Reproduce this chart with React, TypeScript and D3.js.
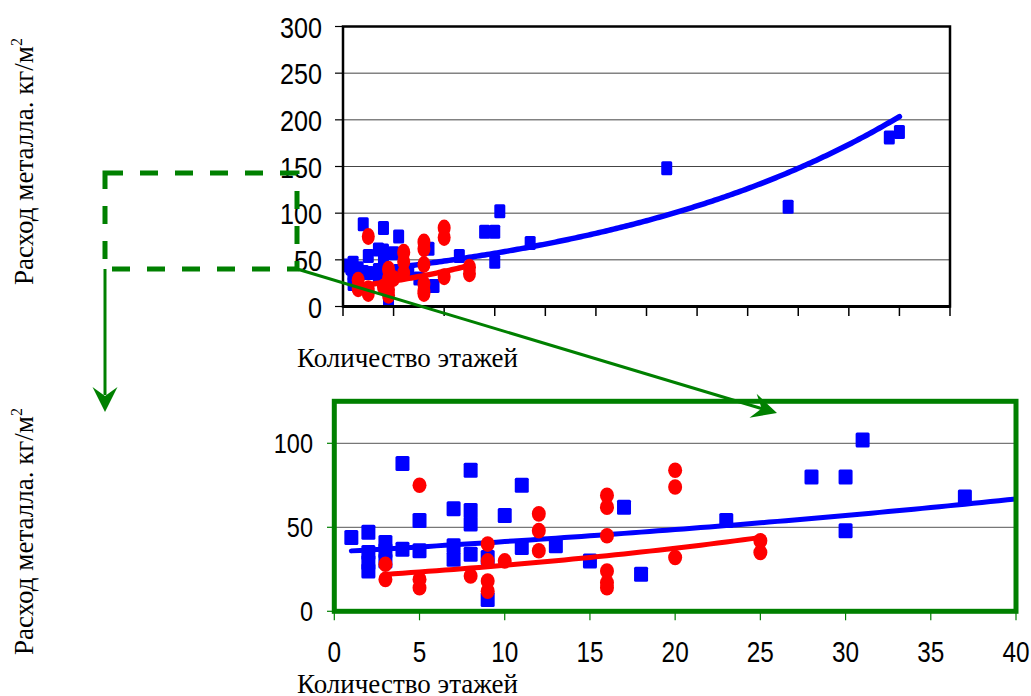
import * as d3 from 'd3';

// blue series: floors / metal use (kg/m2)
const blueFloors = [1, 2, 2, 2, 2, 3, 3, 3, 4, 4, 5, 5, 7, 7, 7, 8, 8, 8, 8, 9, 9, 10, 11, 11, 13, 15, 17, 18, 23, 28, 30, 30, 31, 37, 64, 88, 108, 110];
const blueValues = [44, 47, 35, 29, 24, 41, 36, 30, 88, 37, 54, 36, 61, 39, 31, 84, 60, 52, 34, 32, 7, 57, 75, 38, 39, 30, 62, 22, 54, 80, 80, 48, 102, 68, 148, 107, 181, 187];

// red series
const redFloors = [3, 3, 5, 5, 5, 8, 9, 9, 9, 9, 10, 12, 12, 12, 16, 16, 16, 16, 16, 16, 20, 20, 20, 25, 25];
const redValues = [28, 19, 75, 19, 14, 21, 40, 30, 18, 12, 30, 58, 48, 36, 69, 62, 45, 24, 17, 14, 84, 74, 32, 42, 35];

// exponential trend lines y = a * e^(b x)
const blueTrend = { a: 35.4, b: 0.0159, from: 1, to: 110 };
const redTrend = { a: 20.0, b: 0.0315, from: 3, to: 25 };

const topYTicks = [0, 50, 100, 150, 200, 250, 300];
const topXTicks = [0, 10, 20, 30, 40, 50, 60, 70, 80, 90, 100, 110, 120];
const bottomYTicks = [0, 50, 100];
const bottomXTicks = [0, 5, 10, 15, 20, 25, 30, 35, 40];

const yTitle = 'Расход металла. кг/м';
const xTitle = 'Количество этажей';

const BLUE = '#0000ff';
const RED = '#ff0000';
const GREEN = '#008000';
const NUM_FONT = '"Liberation Sans", Arial, sans-serif';
const SERIF = '"Liberation Serif", "Times New Roman", serif';

const trendPoints = (t) => d3.range(t.from, t.to + 0.001, 0.5).map(x => [x, t.a * Math.exp(t.b * x)]);

// narrow-looking number label (the original uses a condensed face)
function Num({ x, y, anchor, size, children }) {
  return (
    <g transform={`translate(${x},${y}) scale(0.84,1)`}>
      <text x={0} y={0} textAnchor={anchor} fontFamily={NUM_FONT} fontSize={size}>{children}</text>
    </g>
  );
}

function Marks({ x, y, maxX, sq, el, lw }) {
  const line = d3.line().x(d => x(d[0])).y(d => y(d[1]));
  const blue = blueFloors.map((f, i) => [f, blueValues[i]]).filter(d => d[0] <= maxX);
  const red = redFloors.map((f, i) => [f, redValues[i]]).filter(d => d[0] <= maxX);
  return (
    <g>
      {blue.map((d, i) => (
        <rect key={'b' + i} x={x(d[0]) - sq[0] / 2} y={y(d[1]) - sq[1] / 2} width={sq[0]} height={sq[1]} rx={1.5} fill={BLUE} />
      ))}
      <path d={line(trendPoints(blueTrend))} fill="none" stroke={BLUE} strokeWidth={lw} strokeLinecap="round" />
      {red.map((d, i) => (
        <ellipse key={'r' + i} cx={x(d[0])} cy={y(d[1])} rx={el[0]} ry={el[1]} fill={RED} />
      ))}
      <path d={line(trendPoints(redTrend))} fill="none" stroke={RED} strokeWidth={lw} strokeLinecap="round" />
    </g>
  );
}

function arrowHead(x1, y1, x2, y2) {
  const a = Math.atan2(y2 - y1, x2 - x1);
  const len = 25, half = 12.5, notch = 16;
  const p = (d, s) => [x2 - d * Math.cos(a) - s * Math.sin(a), y2 - d * Math.sin(a) + s * Math.cos(a)];
  const pts = [[x2, y2], p(len, half), p(notch, 0), p(len, -half)];
  return pts.map(q => q.join(',')).join(' ');
}

export default function App() {
  const xT = d3.scaleLinear().domain([0, 120]).range([343, 950]);
  const yT = d3.scaleLinear().domain([0, 300]).range([306.5, 26.5]);
  const xB = d3.scaleLinear().domain([0, 40]).range([334.3, 1016]);
  const yB = d3.scaleLinear().domain([0, 125]).range([611.3, 401.3]);

  return (
    <svg width={1031} height={696} style={{ position: 'absolute', left: 0, top: 0, background: '#fff' }}>
      <defs>
        <clipPath id="clipB">
          <rect x={xB(0)} y={yB(125)} width={xB(40) - xB(0)} height={yB(0) - yB(125)} />
        </clipPath>
      </defs>

      {/* top chart */}
      {topYTicks.slice(1, -1).map(v => (
        <line key={v} x1={xT(0)} x2={xT(120)} y1={yT(v)} y2={yT(v)} stroke="#444" strokeWidth={1} />
      ))}
      {topYTicks.map(v => (
        <g key={v}>
          <line x1={335} x2={xT(0)} y1={yT(v)} y2={yT(v)} stroke="#000" strokeWidth={1.2} />
          <Num x={322} y={yT(v) + 11} anchor="end" size={30}>{v}</Num>
        </g>
      ))}
      {topXTicks.map(v => (
        <line key={v} x1={xT(v)} x2={xT(v)} y1={yT(0)} y2={yT(0) + 9.5} stroke="#000" strokeWidth={1.5} />
      ))}
      <Marks x={xT} y={yT} maxX={120} sq={[11, 14]} el={[6.5, 8.5]} lw={5.5} />
      <rect x={xT(0)} y={yT(300)} width={xT(120) - xT(0)} height={yT(0) - yT(300)} fill="none" stroke="#000" strokeWidth={2.5} />
      <line x1={xT(0)} x2={xT(120)} y1={yT(0)} y2={yT(0)} stroke="#000" strokeWidth={3} />
      <text transform="translate(33,285) rotate(-90)" fontFamily={SERIF} fontSize={27}>
        {yTitle}<tspan dy={-11} fontSize={16}>2</tspan>
      </text>
      <text x={297} y={367} fontFamily={SERIF} fontSize={27}>{xTitle}</text>

      {/* bottom chart */}
      {bottomYTicks.slice(1).map(v => (
        <line key={v} x1={xB(0)} x2={xB(40)} y1={yB(v)} y2={yB(v)} stroke="#555" strokeWidth={1} />
      ))}
      {bottomYTicks.map(v => (
        <g key={v}>
          <line x1={327} x2={xB(0)} y1={yB(v)} y2={yB(v)} stroke={GREEN} strokeWidth={1.2} />
          <Num x={313} y={yB(v) + 10} anchor="end" size={28}>{v}</Num>
        </g>
      ))}
      {bottomXTicks.map(v => (
        <g key={v}>
          <line x1={xB(v)} x2={xB(v)} y1={yB(0)} y2={yB(0) + 9} stroke={GREEN} strokeWidth={1.2} />
          <Num x={xB(v)} y={662} anchor="middle" size={29}>{v}</Num>
        </g>
      ))}
      <g clipPath="url(#clipB)">
        <Marks x={xB} y={yB} maxX={40} sq={[14, 15]} el={[7, 7.8]} lw={5} />
      </g>
      <rect x={xB(0)} y={yB(125)} width={xB(40) - xB(0)} height={yB(0) - yB(125)} fill="none" stroke={GREEN} strokeWidth={5} />
      <text transform="translate(33,655) rotate(-90)" fontFamily={SERIF} fontSize={27}>
        {yTitle}<tspan dy={-11} fontSize={16}>2</tspan>
      </text>
      <text x={297} y={693} fontFamily={SERIF} fontSize={27}>{xTitle}</text>

      {/* zoom decorations */}
      <path d="M105,173 H297 V269 H105 Z" fill="none" stroke={GREEN} strokeWidth={5} strokeDasharray="18 17" />
      <line x1={105} y1={269} x2={105} y2={395} stroke={GREEN} strokeWidth={3} />
      <polygon points={arrowHead(105, 269, 105, 412)} fill={GREEN} />
      <line x1={297} y1={269} x2={763} y2={409} stroke={GREEN} strokeWidth={3} />
      <polygon points={arrowHead(297, 269, 777, 413)} fill={GREEN} />
    </svg>
  );
}
